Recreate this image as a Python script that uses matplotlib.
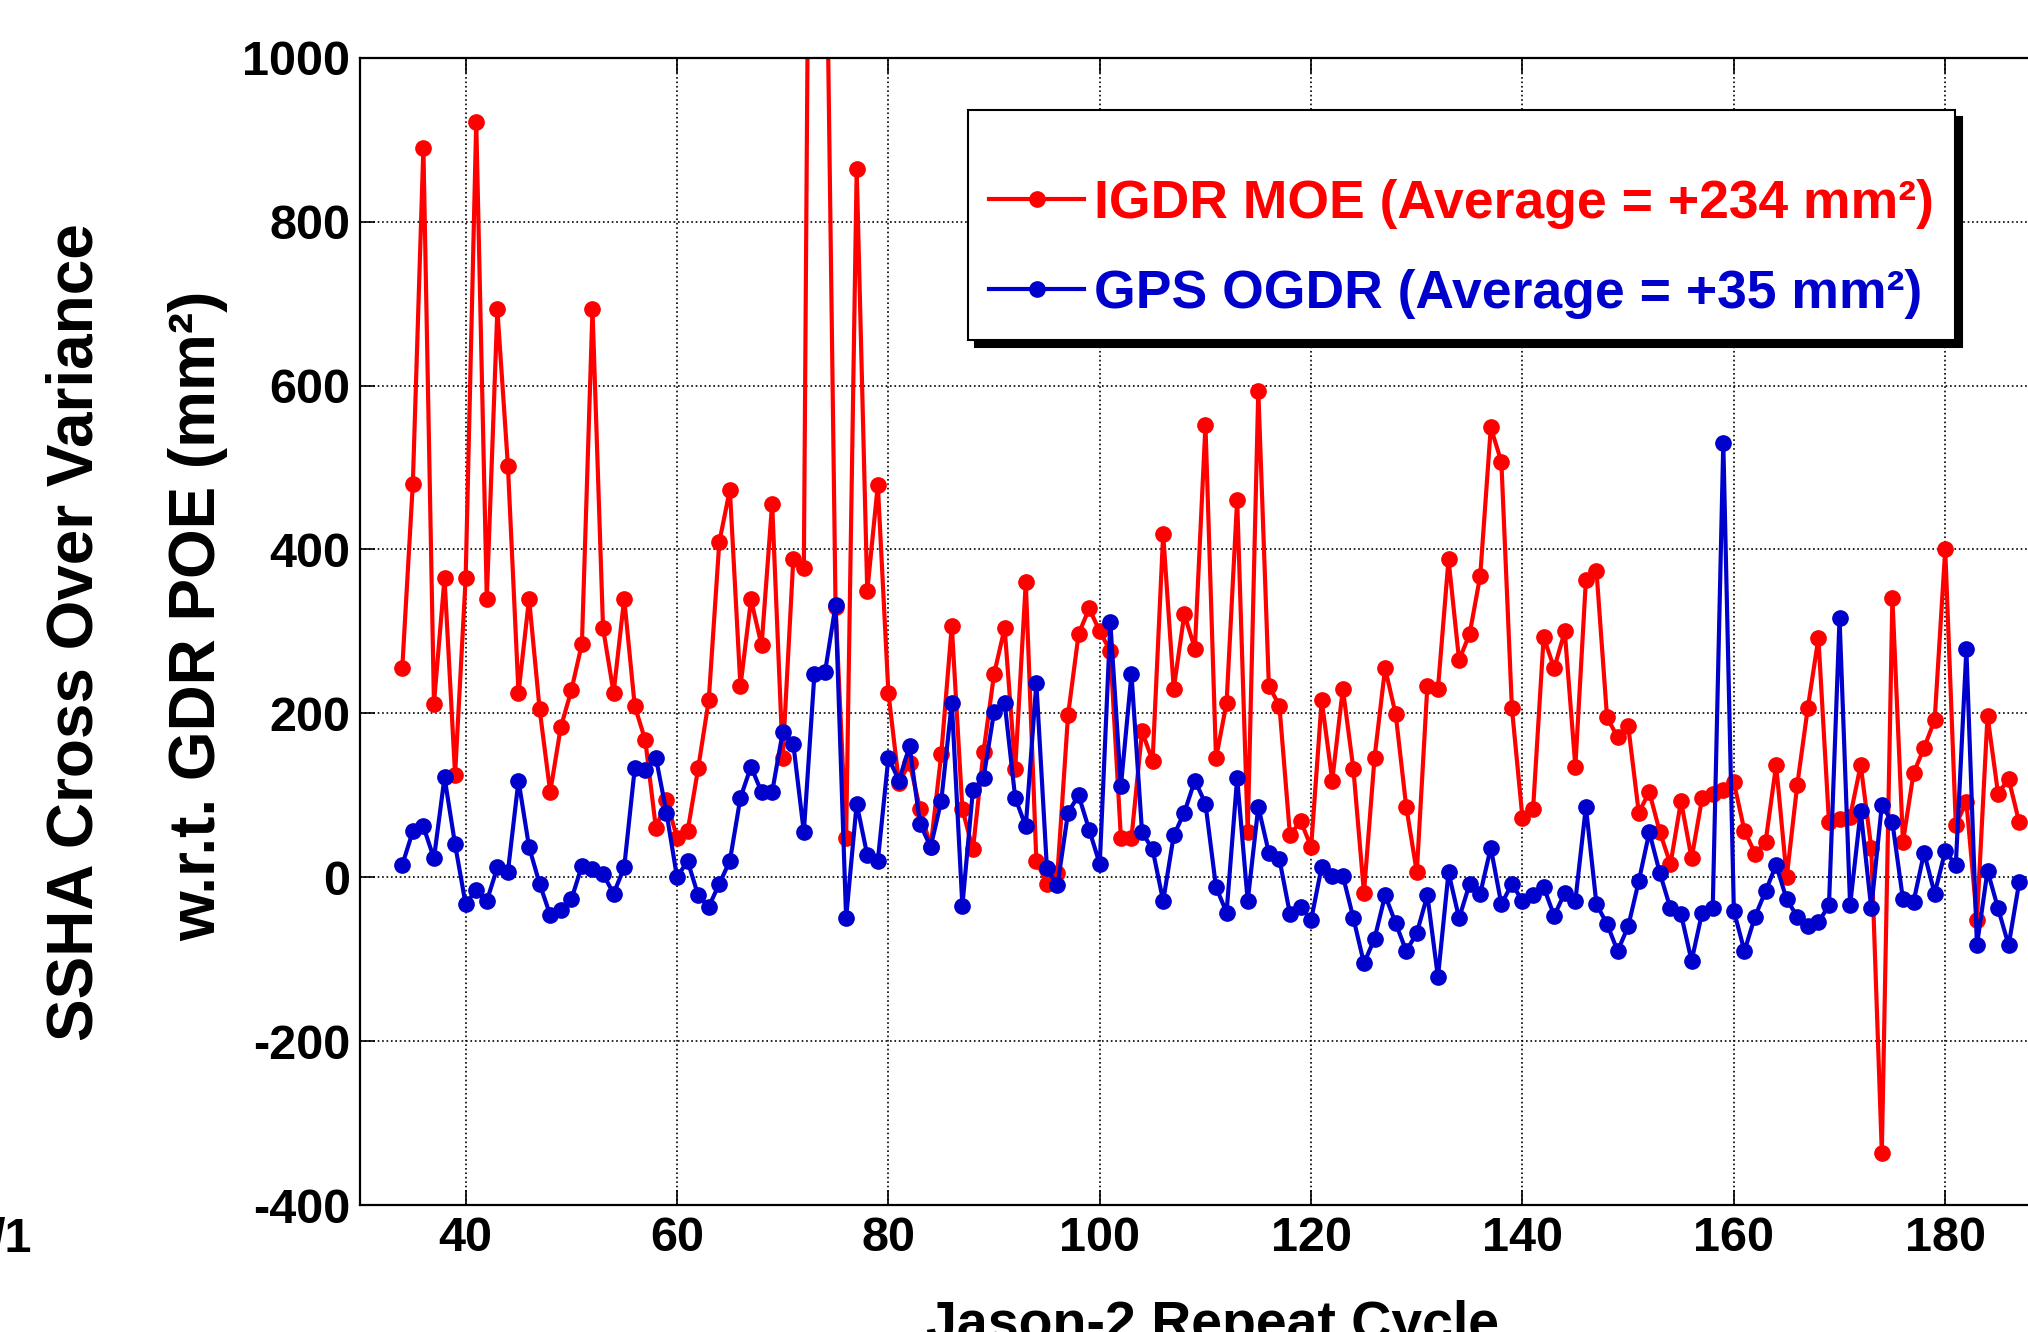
import numpy as np
import matplotlib
matplotlib.use("Agg")
from matplotlib import pyplot as plt
from matplotlib.lines import Line2D

plt.rcParams['font.family'] = ['Liberation Sans', 'DejaVu Sans']
plt.rcParams['font.weight'] = 'bold'
plt.rcParams['axes.unicode_minus'] = False

# Jason-2 repeat cycles and crossover variance (mm^2)
cycles = np.arange(34, 188)

igdr_moe = [
    255, 480, 890, 212, 365, 125, 365, 922, 340, 693,      # 34-43
    502, 225, 340, 205, 104, 183, 228, 285, 693, 304,      # 44-53
    225, 340, 209, 167, 60, 94, 48, 56, 133, 216,          # 54-63
    409, 473, 233, 339, 283, 456, 146, 388, 377, 2200,     # 64-73
    1300, 330, 48, 864, 349, 479, 225, 115, 140, 83,       # 74-83
    37, 150, 307, 83, 34, 153, 248, 304, 132, 360,         # 84-93
    20, -8, 5, 198, 297, 328, 300, 276, 48, 48,            # 94-103
    178, 142, 419, 230, 321, 279, 552, 145, 213, 461,      # 104-113
    55, 594, 234, 209, 51, 69, 37, 216, 118, 230,          # 114-123
    132, -19, 146, 255, 199, 86, 6, 234, 230, 388,         # 124-133
    265, 297, 368, 549, 507, 206, 72, 83, 293, 255,        # 134-143
    300, 135, 363, 374, 195, 171, 185, 79, 104, 55,        # 144-153
    16, 93, 23, 97, 102, 106, 116, 57, 29, 43,             # 154-163
    137, 0, 113, 207, 292, 67, 71, 74, 137, 36,            # 164-173
    -336, 341, 43, 127, 158, 192, 400, 64, 92, -52,        # 174-183
    197, 102, 120, 67,                                     # 184-187
]

gps_ogdr = [
    15, 56, 62, 23, 122, 40, -33, -15, -29, 12,            # 34-43
    7, 118, 37, -8, -46, -40, -27, 14, 10, 4,              # 44-53
    -20, 12, 133, 131, 146, 79, 0, 20, -22, -36,           # 54-63
    -8, 20, 97, 135, 104, 104, 177, 163, 55, 248,          # 64-73
    250, 332, -50, 90, 27, 20, 146, 118, 160, 65,          # 74-83
    37, 93, 213, -35, 107, 121, 202, 213, 97, 62,          # 84-93
    237, 11, -10, 79, 100, 58, 16, 311, 111, 248,          # 94-103
    55, 34, -29, 51, 79, 118, 90, -12, -43, 121,           # 104-113
    -29, 86, 30, 22, -45, -36, -52, 13, 2, 2,              # 114-123
    -50, -105, -75, -22, -56, -90, -68, -22, -122, 6,      # 124-133
    -50, -8, -20, 36, -33, -8, -29, -22, -12, -47,         # 134-143
    -19, -29, 86, -33, -57, -90, -60, -5, 55, 5,           # 144-153
    -38, -45, -102, -43, -38, 530, -41, -90, -48, -17,     # 154-163
    15, -27, -48, -59, -55, -34, 316, -34, 81, -38,        # 164-173
    88, 67, -27, -30, 30, -20, 32, 15, 278, -83,           # 174-183
    8, -38, -83, -6,                                       # 184-187
]

labels = ['IGDR MOE (Average = +234 mm²)', 'GPS OGDR (Average = +35 mm²)']
colors = ['#ff0000', '#0000cc']

fig = plt.figure(figsize=(20.28, 13.32), dpi=100)
# the picture is a crop of a larger slide, so the axes run off the right edge
ax = fig.add_axes([0.1775, 0.0953, 0.8338, 0.8613])

ax.plot(cycles, igdr_moe, '-', color=colors[0], lw=3, marker='o', ms=11)
ax.plot(cycles, gps_ogdr, '-', color=colors[1], lw=3, marker='o', ms=11)

ax.set_xlim(30, 190)
ax.set_ylim(-400, 1000)
ax.set_xticks(np.arange(40, 181, 20))
ax.set_yticks(np.arange(-400, 1001, 200))
ax.grid(True, color='black', linestyle=':', linewidth=1.2)
ax.tick_params(direction='in', top=True, right=True, length=11, width=1.2,
               labelsize=35)
ax.tick_params(axis='x', pad=8)
ax.tick_params(axis='y', pad=7)
for s in ax.spines.values():
    s.set_linewidth(1.6)

handles = [Line2D([], [], color=c, lw=3, marker='o', ms=11) for c in colors]
# a blank title gives the extra room above the first entry
leg = ax.legend(handles, labels, loc='upper left',
                bbox_to_anchor=(0.4773, 0.9174), bbox_transform=fig.transFigure,
                fontsize=38.5, labelcolor='linecolor', frameon=True,
                fancybox=False, edgecolor='black', framealpha=1,
                shadow={'ox': 5, 'oy': -5, 'color': 'black', 'alpha': 1},
                handlelength=1.77, handletextpad=0.19, borderpad=0.4,
                labelspacing=0.75, borderaxespad=0, numpoints=1,
                title=' ', title_fontsize=6)
leg.get_frame().set_linewidth(1.5)

fig.text(0.037, 0.5255, 'SSHA Cross Over Variance', rotation=90,
         ha='center', va='center', fontsize=46, weight='bold')
fig.text(0.0976, 0.538, 'w.r.t. GDR POE (mm²)', rotation=90,
         ha='center', va='center', fontsize=46, weight='bold')
fig.text(0.598, -0.006, 'Jason-2 Repeat Cycle', ha='center', va='baseline',
         fontsize=40, weight='bold')
fig.text(0.016, 0.060, '/1', ha='right', va='baseline', fontsize=35,
         weight='bold')

fig.savefig('out.png', dpi=100)
